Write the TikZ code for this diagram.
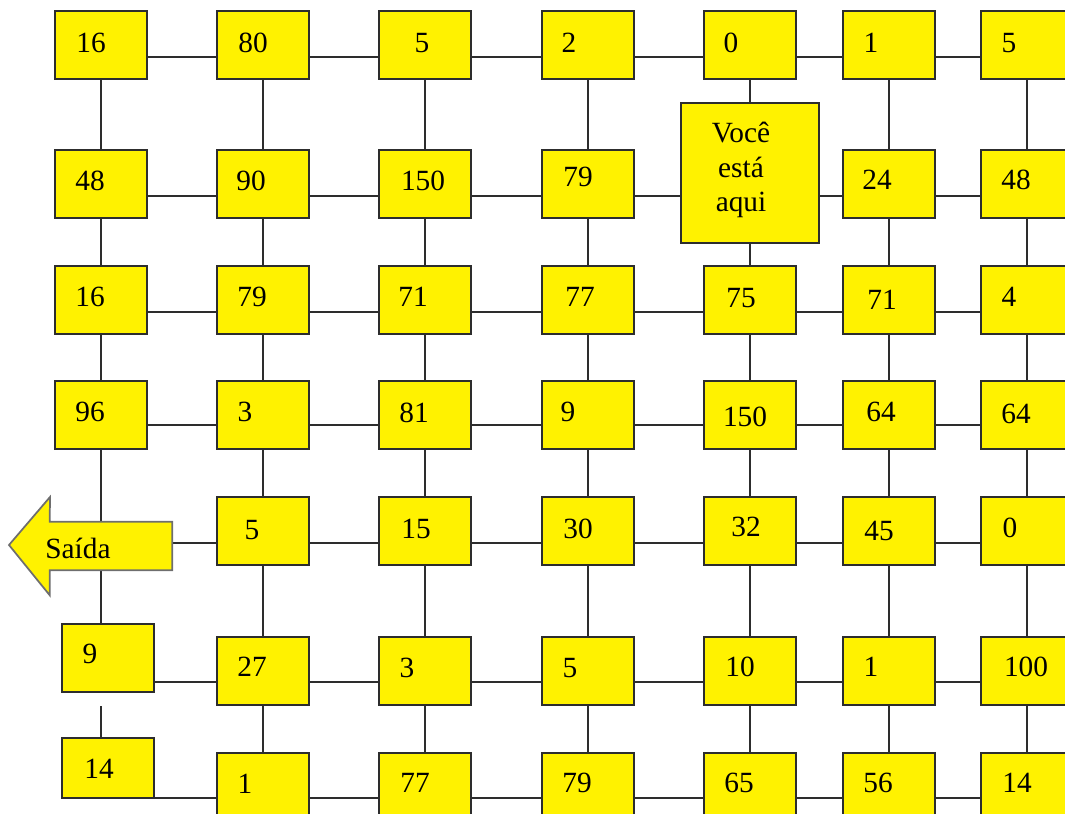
\documentclass[tikz,border=0pt]{standalone}
\usepackage{fontspec}
\setmainfont{Liberation Serif}
\usetikzlibrary{backgrounds}
\definecolor{boxyellow}{RGB}{255,242,0}
\definecolor{edgegray}{RGB}{45,45,45}
\definecolor{arrowgray}{RGB}{110,110,110}
\begin{document}
\begin{tikzpicture}[x=0.75pt,y=-0.75pt,
  box/.style={draw=edgegray, line width=1.3pt, fill=boxyellow, minimum width=69pt, minimum height=51pt, inner sep=0pt},
  lbl/.style={font=\fontsize{22}{26}\selectfont, inner sep=0pt, text=black},
  link/.style={draw=edgegray, line width=1.1pt},
  exitarrow/.style={draw=arrowgray, line width=1.3pt, fill=boxyellow, line join=miter}]
\useasboundingbox (0,0) rectangle (1065,814);
\clip (0,0) rectangle (1065,814);
\newcommand\cell[6]{\node[box] (b#1) at (#2,#3) {}; \node[lbl] (t#1) at (#4,#5) {#6};}
% row 1
\cell{11}{101}{45}{91}{43}{16}
\cell{12}{263}{45}{253}{43}{80}
\cell{13}{425}{45}{422}{43}{5}
\cell{14}{588}{45}{569}{43}{2}
\cell{15}{750}{45}{731}{43}{0}
\cell{16}{889}{45}{871}{43}{1}
\cell{17}{1027}{45}{1009}{43}{5}
% row 2
\cell{21}{101}{184}{90}{181}{48}
\cell{22}{263}{184}{251}{181}{90}
\cell{23}{425}{184}{423}{181}{150}
\cell{24}{588}{184}{578}{177}{79}
\node[box, minimum width=104pt, minimum height=105pt] (you) at (750,173) {};
\node[lbl, align=center] (yout) at (741,170) {Você\\está\\aqui};
\cell{26}{889}{184}{877}{180}{24}
\cell{27}{1027}{184}{1016}{180}{48}
% row 3
\cell{31}{101}{300}{90}{297}{16}
\cell{32}{263}{300}{252}{297}{79}
\cell{33}{425}{300}{413}{297}{71}
\cell{34}{588}{300}{580}{297}{77}
\cell{35}{750}{300}{741}{298}{75}
\cell{36}{889}{300}{882}{300}{71}
\cell{37}{1027}{300}{1009}{297}{4}
% row 4
\cell{41}{101}{415}{90}{412}{96}
\cell{42}{263}{415}{245}{412}{3}
\cell{43}{425}{415}{414}{413}{81}
\cell{44}{588}{415}{568}{412}{9}
\cell{45}{750}{415}{745}{417}{150}
\cell{46}{889}{415}{881}{412}{64}
\cell{47}{1027}{415}{1016}{414}{64}
% row 5
\node[inner sep=0pt, minimum width=91.5pt, minimum height=36pt] (saida) at (111,546) {};
\draw[exitarrow] (saida.north east) -- (saida.south east) -- (saida.south west) -- ++(0,25) -- (9,545) -- (50,497) -- (saida.north west) -- cycle;
\node[lbl] (saidat) at (78,548) {Saída};
\cell{52}{263}{531}{252}{530}{5}
\cell{53}{425}{531}{416}{529}{15}
\cell{54}{588}{531}{578}{529}{30}
\cell{55}{750}{531}{746}{527}{32}
\cell{56}{889}{531}{879}{531}{45}
\cell{57}{1027}{531}{1010}{528}{0}
% row 6
\cell{61}{108}{658}{90}{654}{9}
\cell{62}{263}{671}{252}{667}{27}
\cell{63}{425}{671}{407}{668}{3}
\cell{64}{588}{671}{570}{668}{5}
\cell{65}{750}{671}{740}{667}{10}
\cell{66}{889}{671}{871}{667}{1}
\cell{67}{1027}{671}{1026}{667}{100}
% row 7
\node[box, minimum height=45pt] (b71) at (108,768) {};
\node[lbl] (t71) at (99,769) {14};
\cell{72}{263}{787}{245}{784}{1}
\cell{73}{425}{787}{415}{783}{77}
\cell{74}{588}{787}{577}{783}{79}
\cell{75}{750}{787}{739}{783}{65}
\cell{76}{889}{787}{878}{783}{56}
\cell{77}{1027}{787}{1017}{783}{14}
% helper coordinates
\coordinate (h1) at (0,57);
\coordinate (h2) at (0,196);
\coordinate (h3) at (0,312);
\coordinate (h4) at (0,425);
\coordinate (h5) at (0,543);
\coordinate (h6) at (0,682);
\coordinate (h7) at (0,798);
\coordinate (v1) at (101,0);
\coordinate (stub) at (101,706);
\begin{scope}[on background layer]
% horizontal connectors
\foreach \a/\b in {b11/b12,b12/b13,b13/b14,b14/b15,b15/b16,b16/b17}
  \draw[link] (\a.east |- h1) -- (\b.west |- h1);
\foreach \a/\b in {b21/b22,b22/b23,b23/b24,b24/you,you/b26,b26/b27}
  \draw[link] (\a.east |- h2) -- (\b.west |- h2);
\foreach \a/\b in {b31/b32,b32/b33,b33/b34,b34/b35,b35/b36,b36/b37}
  \draw[link] (\a.east |- h3) -- (\b.west |- h3);
\foreach \a/\b in {b41/b42,b42/b43,b43/b44,b44/b45,b45/b46,b46/b47}
  \draw[link] (\a.east |- h4) -- (\b.west |- h4);
\foreach \a/\b in {saida/b52,b52/b53,b53/b54,b54/b55,b55/b56,b56/b57}
  \draw[link] (\a.east |- h5) -- (\b.west |- h5);
\foreach \a/\b in {b61/b62,b62/b63,b63/b64,b64/b65,b65/b66,b66/b67}
  \draw[link] (\a.east |- h6) -- (\b.west |- h6);
\foreach \a/\b in {b71/b72,b72/b73,b73/b74,b74/b75,b75/b76,b76/b77}
  \draw[link] (\a.east |- h7) -- (\b.west |- h7);
% vertical connectors
\foreach \c in {2,3,4,6,7}
  \foreach \r/\s in {1/2,2/3,3/4,4/5,5/6,6/7}
    \draw[link] (b\r\c.south) -- (b\s\c.north);
\foreach \a/\b in {b15/you,you/b35,b35/b45,b45/b55,b55/b65,b65/b75}
  \draw[link] (\a.south) -- (\a.south |- \b.north);
\foreach \a/\b in {b11/b21,b21/b31,b31/b41}
  \draw[link] (\a.south) -- (\b.north);
\draw[link] (b41.south -| v1) -- (saida.north -| v1);
\draw[link] (saida.south -| v1) -- (b61.north -| v1);
\draw[link] (stub) -- (b71.north -| stub);
\end{scope}
\end{tikzpicture}
\end{document}
